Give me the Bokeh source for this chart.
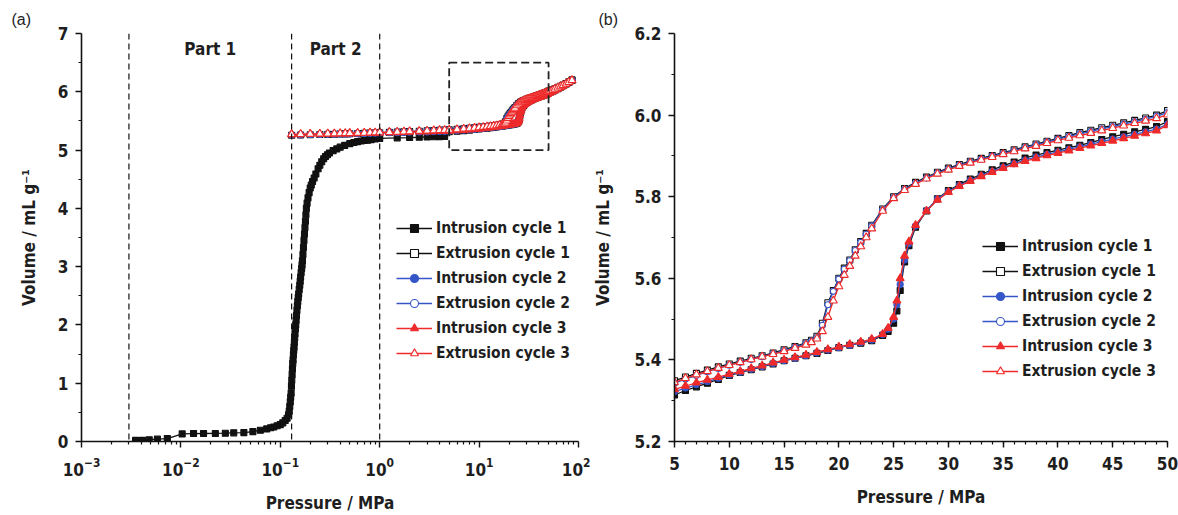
from bokeh.plotting import figure
from bokeh.layouts import row
from bokeh.models import (Range1d, FixedTicker, Legend, LegendItem, Span, Label, Title,
                          BoxAnnotation, PrintfTickFormatter)
from bokeh.embed import file_html
from bokeh.resources import INLINE

# ---------------- data (pressure in MPa, volume in mL/g) ----------------
# intrusion cycle 1, low-pressure part (mercury filling the inter-particle space)
P_INT1_LOW = [0.0035, 0.0041, 0.0048, 0.0058, 0.0073, 0.0103, 0.0134, 0.0169, 0.0222, 0.028,
              0.034, 0.043, 0.053, 0.063, 0.073, 0.080, 0.086, 0.093, 0.100, 0.106,
              0.112, 0.117, 0.121, 0.123, 0.1245, 0.126, 0.1272, 0.1285, 0.1295, 0.1305,
              0.1315, 0.1325, 0.1335, 0.1344, 0.1355, 0.1365, 0.1375, 0.1385, 0.1395, 0.1406,
              0.1418, 0.143, 0.1442, 0.1455, 0.147, 0.1485, 0.150, 0.1515, 0.153, 0.155,
              0.157, 0.1585, 0.160, 0.162, 0.164, 0.1655, 0.167, 0.169, 0.171, 0.173,
              0.175, 0.177, 0.179, 0.181, 0.183, 0.186, 0.190, 0.195, 0.200, 0.205,
              0.211, 0.219, 0.228, 0.24, 0.25, 0.261, 0.273, 0.285, 0.298, 0.312,
              0.34, 0.37, 0.40, 0.444, 0.5, 0.55, 0.6, 0.65, 0.7, 0.755,
              0.82, 0.9, 1.0, 1.5, 2.0, 2.5, 3.0, 3.5, 4.0, 4.5]
V_INT1_LOW = [0.02, 0.02, 0.03, 0.04, 0.05, 0.13, 0.136, 0.137, 0.138, 0.142,
              0.148, 0.153, 0.17, 0.193, 0.216, 0.235, 0.25, 0.27, 0.29, 0.32,
              0.36, 0.40, 0.46, 0.52, 0.60, 0.68, 0.76, 0.83, 0.95, 1.05,
              1.15, 1.25, 1.34, 1.40, 1.49, 1.56, 1.62, 1.70, 1.78, 1.85,
              1.93, 2.00, 2.08, 2.16, 2.25, 2.33, 2.40, 2.47, 2.53, 2.61,
              2.68, 2.75, 2.82, 2.90, 2.97, 3.03, 3.10, 3.21, 3.33, 3.45,
              3.56, 3.67, 3.78, 3.89, 4.00, 4.09, 4.18, 4.27, 4.35, 4.40,
              4.46, 4.52, 4.59, 4.68, 4.74, 4.80, 4.85, 4.89, 4.92, 4.95,
              4.99, 5.02, 5.05, 5.08, 5.11, 5.13, 5.145, 5.155, 5.163, 5.17,
              5.18, 5.19, 5.20, 5.21, 5.215, 5.22, 5.225, 5.228, 5.231, 5.234]

# later cycles / extrusions, low-pressure part
P_LOW = [0.13, 0.16, 0.2, 0.25, 0.3, 0.35, 0.4, 0.45, 0.5, 0.6, 0.7, 0.8, 0.9, 1.0,
         1.25, 1.5, 1.75, 2.0, 2.5, 3.0, 3.5, 4.0, 4.5]
V_EXT1_LOW = [5.255, 5.258, 5.262, 5.266, 5.269, 5.272, 5.275, 5.278, 5.28, 5.284, 5.288, 5.291,
              5.294, 5.297, 5.303, 5.308, 5.313, 5.317, 5.324, 5.330, 5.336, 5.341, 5.345]
V_INT2_LOW = [5.262, 5.264, 5.266, 5.268, 5.270, 5.272, 5.274, 5.276, 5.278, 5.281, 5.284, 5.287,
              5.290, 5.292, 5.296, 5.299, 5.302, 5.305, 5.309, 5.312, 5.315, 5.318, 5.320]
V_EXT2_LOW = [5.262, 5.265, 5.268, 5.271, 5.274, 5.277, 5.279, 5.281, 5.283, 5.287, 5.29, 5.293,
              5.296, 5.299, 5.304, 5.309, 5.314, 5.318, 5.324, 5.329, 5.334, 5.338, 5.34]
V_INT3_LOW = [5.268, 5.27, 5.272, 5.274, 5.276, 5.278, 5.28, 5.282, 5.284, 5.287, 5.29, 5.293,
              5.296, 5.298, 5.302, 5.305, 5.308, 5.311, 5.315, 5.318, 5.321, 5.324, 5.326]
V_EXT3_LOW = [5.27, 5.273, 5.276, 5.279, 5.281, 5.283, 5.285, 5.287, 5.289, 5.292, 5.295, 5.298,
              5.301, 5.303, 5.308, 5.312, 5.316, 5.32, 5.326, 5.331, 5.336, 5.34, 5.342]

# 5 - 50 MPa region (panel b)
P_INT_MID = [5, 6, 7, 8, 9, 10, 11, 12, 13, 14, 15, 16, 17, 18, 19, 20, 21, 22, 23, 24,
             24.5, 25, 25.3, 25.6, 26, 26.4, 27, 28, 29, 30, 31, 32, 33, 34, 35, 36, 37, 38,
             39, 40, 41, 42, 43, 44, 45, 46, 47, 48, 49, 50]
V_INT1_MID = [5.314, 5.325, 5.334, 5.343, 5.352, 5.362, 5.369, 5.376, 5.383, 5.390, 5.398, 5.404,
              5.410, 5.416, 5.423, 5.430, 5.436, 5.441, 5.447, 5.460, 5.470, 5.490, 5.520, 5.570,
              5.640, 5.680, 5.725, 5.765, 5.795, 5.815, 5.830, 5.843, 5.855, 5.866, 5.876, 5.885,
              5.895, 5.902, 5.908, 5.914, 5.920, 5.926, 5.933, 5.940, 5.947, 5.953, 5.959, 5.965,
              5.972, 5.984]
V_INT2_MID = [5.322, 5.331, 5.339, 5.347, 5.355, 5.363, 5.370, 5.377, 5.384, 5.391, 5.398, 5.404,
              5.410, 5.417, 5.424, 5.430, 5.436, 5.442, 5.449, 5.462, 5.475, 5.500, 5.535, 5.585,
              5.645, 5.685, 5.728, 5.766, 5.794, 5.813, 5.828, 5.840, 5.852, 5.862, 5.872, 5.881,
              5.890, 5.897, 5.904, 5.910, 5.916, 5.922, 5.929, 5.935, 5.941, 5.947, 5.953, 5.959,
              5.966, 5.978]
V_INT3_MID = [5.328, 5.336, 5.344, 5.351, 5.358, 5.365, 5.372, 5.379, 5.386, 5.393, 5.400, 5.406,
              5.412, 5.419, 5.426, 5.432, 5.438, 5.444, 5.451, 5.463, 5.478, 5.505, 5.545, 5.600,
              5.655, 5.690, 5.730, 5.765, 5.792, 5.811, 5.826, 5.838, 5.850, 5.860, 5.870, 5.879,
              5.887, 5.894, 5.901, 5.907, 5.913, 5.919, 5.925, 5.931, 5.937, 5.943, 5.949, 5.955,
              5.962, 5.975]

P_EXT_MID = [5, 6, 7, 8, 9, 10, 11, 12, 13, 14, 15, 16, 17, 17.5, 18, 18.5, 19, 19.5, 20, 20.5,
             21, 21.5, 22, 22.5, 23, 24, 25, 26, 27, 28, 29, 30, 31, 32, 33, 34, 35, 36, 37, 38,
             39, 40, 41, 42, 43, 44, 45, 46, 47, 48, 49, 50]
V_EXT1_MID = [5.349, 5.358, 5.367, 5.375, 5.383, 5.390, 5.397, 5.404, 5.410, 5.417, 5.425, 5.433,
              5.442, 5.448, 5.458, 5.490, 5.540, 5.570, 5.600, 5.625, 5.645, 5.670, 5.690, 5.710,
              5.730, 5.770, 5.800, 5.820, 5.835, 5.848, 5.860, 5.870, 5.879, 5.887, 5.894, 5.901,
              5.908, 5.915, 5.922, 5.929, 5.936, 5.943, 5.950, 5.957, 5.963, 5.969, 5.975, 5.981,
              5.987, 5.993, 6.000, 6.011]
V_EXT2_MID = [5.343, 5.353, 5.362, 5.371, 5.379, 5.387, 5.394, 5.401, 5.408, 5.415, 5.423, 5.431,
              5.440, 5.446, 5.455, 5.485, 5.535, 5.568, 5.598, 5.622, 5.643, 5.668, 5.688, 5.708,
              5.728, 5.768, 5.798, 5.818, 5.833, 5.846, 5.858, 5.868, 5.877, 5.885, 5.892, 5.899,
              5.906, 5.913, 5.920, 5.927, 5.934, 5.941, 5.948, 5.954, 5.960, 5.966, 5.972, 5.978,
              5.984, 5.990, 5.997, 6.006]
V_EXT3_MID = [5.345, 5.355, 5.364, 5.372, 5.380, 5.387, 5.394, 5.401, 5.408, 5.414, 5.421, 5.429,
              5.437, 5.443, 5.452, 5.470, 5.505, 5.545, 5.580, 5.608, 5.630, 5.655, 5.678, 5.700,
              5.722, 5.765, 5.796, 5.816, 5.831, 5.844, 5.856, 5.866, 5.875, 5.883, 5.890, 5.897,
              5.904, 5.911, 5.918, 5.924, 5.931, 5.938, 5.944, 5.950, 5.956, 5.962, 5.968, 5.974,
              5.980, 5.986, 5.992, 6.001]

# above 50 MPa (only visible in panel a)
P_TOP = [52, 55, 58, 62, 66, 70, 75, 80, 86]
V_INT1_TOP = [5.995, 6.012, 6.03, 6.055, 6.08, 6.105, 6.135, 6.165, 6.2]
V_INT2_TOP = [5.99, 6.008, 6.027, 6.052, 6.078, 6.103, 6.133, 6.163, 6.198]
V_INT3_TOP = [5.987, 6.005, 6.025, 6.05, 6.076, 6.101, 6.131, 6.161, 6.196]
V_EXT1_TOP = [6.022, 6.038, 6.055, 6.075, 6.095, 6.115, 6.14, 6.168, 6.2]
V_EXT2_TOP = [6.017, 6.034, 6.052, 6.072, 6.093, 6.113, 6.138, 6.166, 6.198]
V_EXT3_TOP = [6.012, 6.03, 6.049, 6.07, 6.091, 6.111, 6.137, 6.165, 6.196]

SERIES_NAMES = ["Intrusion cycle 1", "Extrusion cycle 1", "Intrusion cycle 2",
                "Extrusion cycle 2", "Intrusion cycle 3", "Extrusion cycle 3"]

PART_BOUNDS = [0.003, 0.13, 1.0]          # MPa, dashed separators in panel (a)
PART_LABELS = ["Part 1", "Part 2"]
ZOOM_BOX = [5.0, 50.0, 5.0, 6.5]          # left, right, bottom, top of the zoom box

X1_TICKS = [1e-3, 1e-2, 1e-1, 1.0, 10.0, 100.0]
Y1_TICKS = [0, 1, 2, 3, 4, 5, 6, 7]
X2_TICKS = [5, 10, 15, 20, 25, 30, 35, 40, 45, 50]
Y2_TICKS = [5.2, 5.4, 5.6, 5.8, 6.0, 6.2]

# ---------------- styling ----------------
FONT = "'DejaVu Sans Condensed', Roboto, 'Liberation Sans', sans-serif"
TXT = "#1e1e1e"
BLACK = "#111111"
BLUE = "#3556c8"
RED = "#ee2a2a"

series = [
    (P_INT1_LOW + P_INT_MID + P_TOP, V_INT1_LOW + V_INT1_MID + V_INT1_TOP, BLACK, "square", True, 6),
    (P_LOW + P_EXT_MID + P_TOP, V_EXT1_LOW + V_EXT1_MID + V_EXT1_TOP, BLACK, "square", False, 6),
    (P_LOW + P_INT_MID + P_TOP, V_INT2_LOW + V_INT2_MID + V_INT2_TOP, BLUE, "circle", True, 6),
    (P_LOW + P_EXT_MID + P_TOP, V_EXT2_LOW + V_EXT2_MID + V_EXT2_TOP, BLUE, "circle", False, 6),
    (P_LOW + P_INT_MID + P_TOP, V_INT3_LOW + V_INT3_MID + V_INT3_TOP, RED, "triangle", True, 8),
    (P_LOW + P_EXT_MID + P_TOP, V_EXT3_LOW + V_EXT3_MID + V_EXT3_TOP, RED, "triangle", False, 8),
]


def style_axes(p):
    for ax in list(p.xaxis) + list(p.yaxis):
        ax.axis_line_width = 1.6
        ax.axis_line_color = BLACK
        ax.major_tick_line_color = BLACK
        ax.minor_tick_line_color = BLACK
        ax.major_tick_line_width = 1.4
        ax.minor_tick_line_width = 1.2
        ax.major_tick_out = 6
        ax.major_tick_in = 0
        ax.minor_tick_out = 3
        ax.minor_tick_in = 0
        ax.major_label_text_font = FONT
        ax.major_label_text_font_style = "bold"
        ax.major_label_text_font_size = "17px"
        ax.major_label_text_color = TXT
        ax.axis_label_text_font = FONT
        ax.axis_label_text_font_style = "bold"
        ax.axis_label_text_font_size = "17px"
        ax.axis_label_text_color = TXT
    p.xgrid.visible = False
    p.ygrid.visible = False
    p.outline_line_color = None
    p.background_fill_color = "white"
    p.border_fill_color = "white"


def add_series(p):
    items = []
    for (xs, ys, color, marker, filled, size), name in zip(series, SERIES_NAMES):
        lr = p.line(xs, ys, line_color=color, line_width=1.3)
        sr = p.scatter(xs, ys, marker=marker, size=size, line_color=color, line_width=1.1,
                       fill_color=color if filled else "white")
        items.append(LegendItem(label=name, renderers=[lr, sr]))
    return items


def make_legend(items, loc):
    return Legend(items=items, location=loc, border_line_color=None, background_fill_alpha=0,
                  padding=0, margin=0, spacing=5, glyph_width=36, glyph_height=20,
                  label_height=20, label_standoff=4, label_text_font=FONT,
                  label_text_font_style="bold", label_text_font_size="15.5px",
                  label_text_color=TXT, label_text_baseline="middle")


def add_panel_tag(p, text, offset):
    p.add_layout(Title(text=text, align="left", offset=offset, text_font="Liberation Sans",
                       text_font_style="normal", text_font_size="16px", text_color=TXT,
                       standoff=12), "above")


# ---------------- panel (a) ----------------
p1 = figure(width=590, height=515, x_axis_type="log", x_range=Range1d(1e-3, 1e2),
            y_range=Range1d(0, 7), output_backend="svg", toolbar_location=None,
            min_border_left=81, min_border_right=12, min_border_top=31, min_border_bottom=73)
style_axes(p1)
p1.xaxis.ticker = FixedTicker(ticks=X1_TICKS,
                              minor_ticks=[m * 10.0 ** e for e in range(-3, 2) for m in range(2, 10)])
p1.yaxis.ticker = FixedTicker(ticks=Y1_TICKS, minor_ticks=[t + 0.5 for t in Y1_TICKS[:-1]])
p1.xaxis.axis_label = "Pressure / MPa"
p1.yaxis.axis_label = "Volume / mL g\u207b\u00b9"
p1.xaxis.major_label_standoff = 9
p1.xaxis.axis_label_standoff = 14
p1.yaxis.major_label_standoff = 7
p1.yaxis.axis_label_standoff = 16

for b in PART_BOUNDS:
    p1.add_layout(Span(location=b, dimension="height", line_color=BLACK, line_width=1.2,
                       line_dash="6 4"))
p1.add_layout(BoxAnnotation(left=ZOOM_BOX[0], right=ZOOM_BOX[1], bottom=ZOOM_BOX[2], top=ZOOM_BOX[3],
                            fill_alpha=0, line_color="#222222", line_alpha=1.0, line_width=1.8,
                            line_dash="8 4"))
for i, txt in enumerate(PART_LABELS):
    xc = (PART_BOUNDS[i] * PART_BOUNDS[i + 1]) ** 0.5
    p1.add_layout(Label(x=xc, y=6.73, text=txt, text_align="center", text_baseline="middle",
                        text_font=FONT, text_font_style="bold", text_font_size="17px",
                        text_color=TXT))

items1 = add_series(p1)
p1.add_layout(make_legend(items1, (315, 78)))
add_panel_tag(p1, "(a)", -70)

# ---------------- panel (b) ----------------
p2 = figure(width=588, height=515, x_range=Range1d(5, 50), y_range=Range1d(5.2, 6.2),
            output_backend="svg", toolbar_location=None,
            min_border_left=83, min_border_right=11, min_border_top=33, min_border_bottom=69)
style_axes(p2)
p2.xaxis.ticker = FixedTicker(ticks=X2_TICKS, minor_ticks=list(range(5, 51)))
p2.yaxis.ticker = FixedTicker(ticks=Y2_TICKS, minor_ticks=[t + 0.1 for t in Y2_TICKS[:-1]])
p2.yaxis.formatter = PrintfTickFormatter(format="%.1f")
p2.xaxis.axis_label = "Pressure / MPa"
p2.yaxis.axis_label = "Volume / mL g\u207b\u00b9"
p2.xaxis.major_label_standoff = 9
p2.xaxis.axis_label_standoff = 14
p2.yaxis.major_label_standoff = 7
p2.yaxis.axis_label_standoff = 18

items2 = add_series(p2)
p2.add_layout(make_legend(items2, (308, 60)))
add_panel_tag(p2, "(b)", -76)

layout = row(p1, p2)
open("out.html", "w").write(file_html(layout, INLINE))
